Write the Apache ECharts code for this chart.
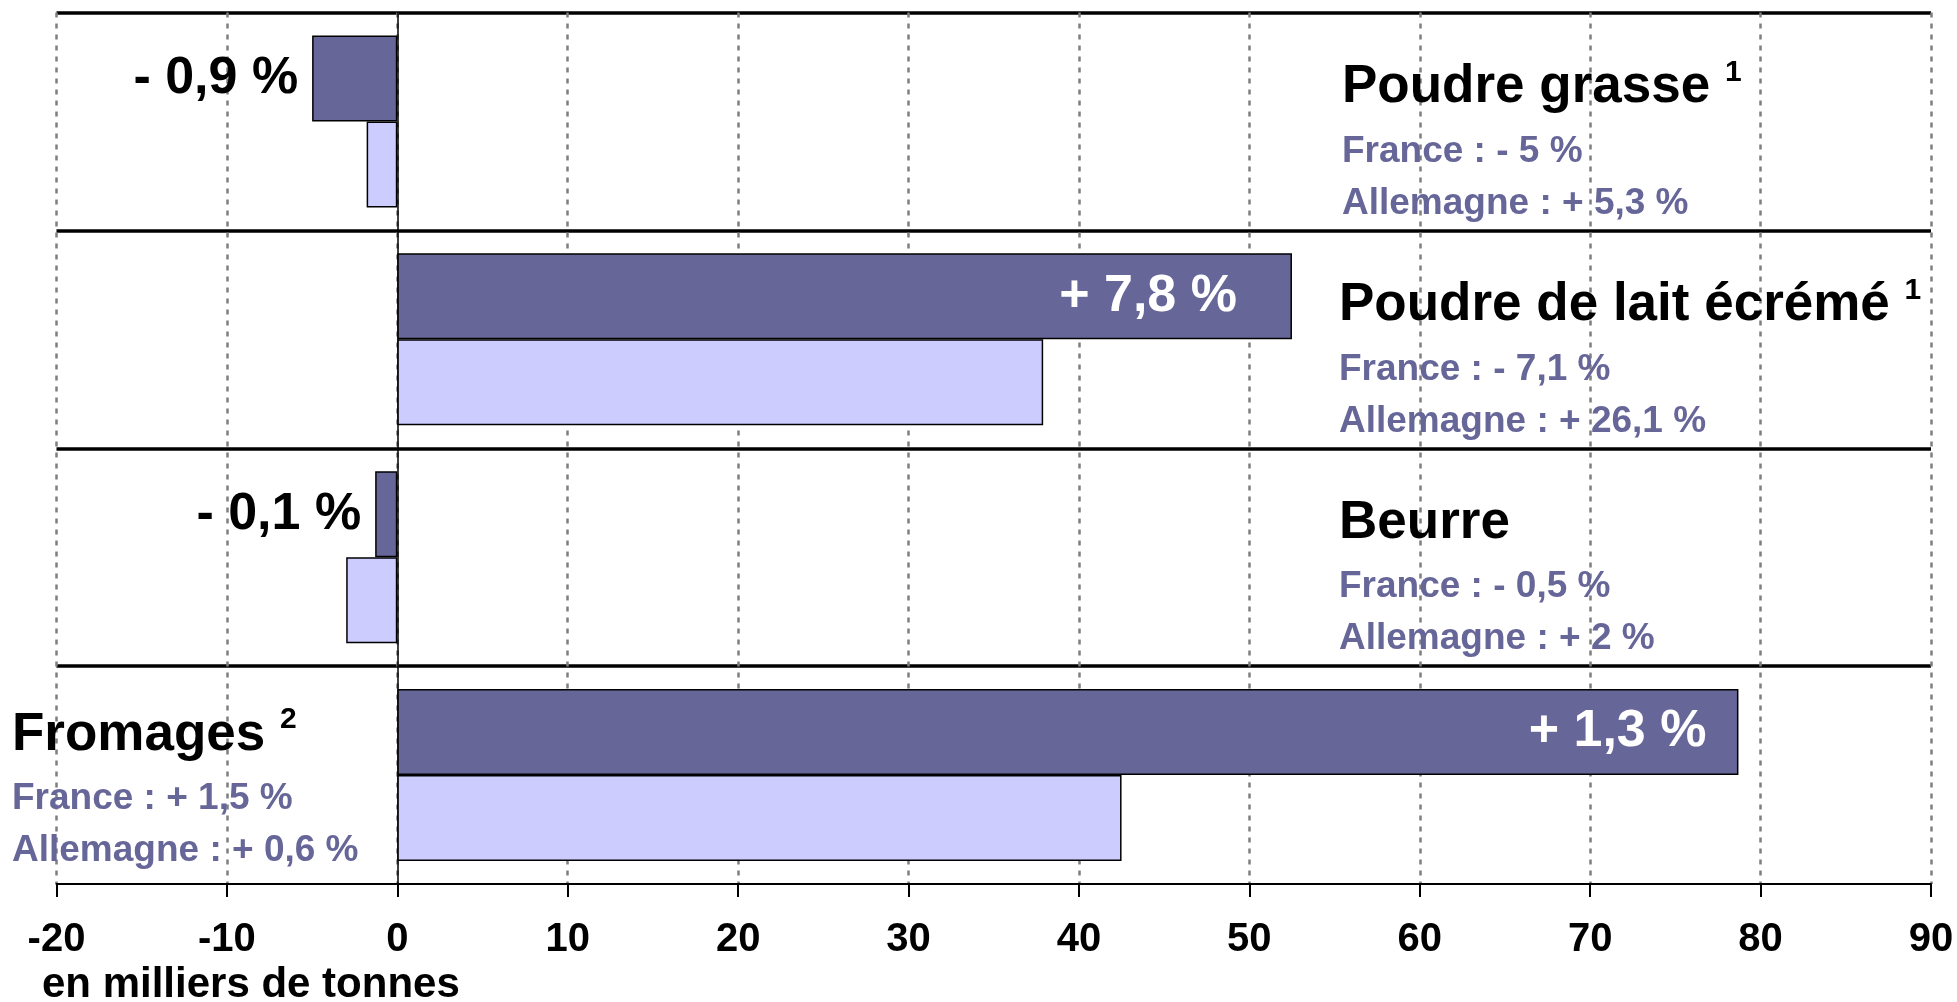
<!DOCTYPE html>
<html>
<head>
<meta charset="utf-8">
<title>Variation des livraisons</title>
<script src="https://cdn.jsdelivr.net/npm/echarts@6/dist/echarts.min.js"></script>
<style>
  html, body { margin: 0; padding: 0; background: #ffffff; }
  #chart { width: 1957px; height: 1002px; }
</style>
</head>
<body>
<div id="chart"></div>
<script>
// données (en milliers de tonnes)
const categories = ['Poudre grasse', 'Poudre de lait écrémé', 'Beurre', 'Fromages'];
const notes = ['1', '1', '', '2'];
const valuesDark = [-5.0, 52.5, -1.3, 78.7];
const valuesLight = [-1.8, 37.9, -3.0, 42.5];
const changeTotal = ['- 0,9 %', '+ 7,8 %', '- 0,1 %', '+ 1,3 %'];
const changeFrance = ['France : - 5 %', 'France : - 7,1 %', 'France : - 0,5 %', 'France : + 1,5 %'];
const changeGermany = ['Allemagne : + 5,3 %', 'Allemagne : + 26,1 %', 'Allemagne : + 2 %', 'Allemagne : + 0,6 %'];
const xMin = -20;
const xMax = 90;
const xStep = 10;
const unitLabel = 'en milliers de tonnes';

// mise en page des textes
const FONT = '"Liberation Sans", Arial, sans-serif';
const DARK = '#666699';
const LIGHT = '#ccccff';
const textLeft = [1342, 1339, 1339, 12];
const textShift = [5, 5, 5, -1];
const insideGap = [0, 55, 0, 32];

const chart = echarts.init(document.getElementById('chart'));

const option = {
  animation: false,
  backgroundColor: '#ffffff',
  textStyle: { fontFamily: FONT },
  grid: { left: 56.5, right: 26, top: 12.5, bottom: 118, outerBoundsMode: 'none' },
  xAxis: {
    type: 'value',
    min: xMin,
    max: xMax,
    interval: xStep,
    axisLine: { show: true, onZero: false, lineStyle: { color: '#000', width: 2 } },
    axisTick: { show: true, length: 13, lineStyle: { color: '#000', width: 2 } },
    axisLabel: { color: '#000', fontSize: 40, fontWeight: 'bold', fontFamily: FONT, margin: 36 },
    splitLine: { show: true, lineStyle: { color: '#7f7f7f', width: 2.5, type: [5, 6] } }
  },
  yAxis: {
    type: 'category',
    data: categories,
    inverse: true,
    axisLine: { show: true, onZero: true, lineStyle: { color: '#000', width: 1.5 } },
    axisTick: { show: false },
    axisLabel: { show: false },
    splitLine: { show: true, showMaxLine: false, lineStyle: { color: '#000', width: 3.5 } }
  },
  series: [
    {
      name: 'Total',
      type: 'bar',
      barGap: 0,
      barCategoryGap: '21%',
      itemStyle: { color: DARK, borderColor: '#000', borderWidth: 1.5 },
      data: valuesDark.map((v, i) => ({
        value: v,
        label: {
          show: true,
          position: v < 0 ? 'left' : 'insideRight',
          distance: v < 0 ? 14 : insideGap[i],
          color: v < 0 ? '#000' : '#fff',
          fontSize: 52,
          fontWeight: 'bold',
          fontFamily: FONT,
          formatter: () => changeTotal[i]
        }
      }))
    },
    {
      name: 'Autre',
      type: 'bar',
      barGap: 0,
      barCategoryGap: '21%',
      itemStyle: { color: LIGHT, borderColor: '#000', borderWidth: 1.5 },
      data: valuesLight
    }
  ]
};

chart.setOption(option);

// textes de chaque produit, placés sur le centre de la catégorie
const graphics = [];
categories.forEach((cat, i) => {
  const yc = chart.convertToPixel({ yAxisIndex: 0 }, cat) + textShift[i];
  const x = textLeft[i];
  graphics.push({
    type: 'text',
    x: x,
    y: yc - 39,
    style: {
      text: notes[i] ? '{t|' + cat + ' }{s|' + notes[i] + '}' : '{t|' + cat + '}',
      verticalAlign: 'middle',
      rich: {
        t: { fontSize: 53, fontWeight: 'bold', fontFamily: FONT, fill: '#000', lineHeight: 60 },
        s: { fontSize: 30, fontWeight: 'bold', fontFamily: FONT, fill: '#000', lineHeight: 40, verticalAlign: 'top' }
      }
    }
  });
  graphics.push({
    type: 'text', x: x, y: yc + 25,
    style: { text: changeFrance[i], fill: DARK, font: 'bold 37px ' + FONT, verticalAlign: 'middle' }
  });
  graphics.push({
    type: 'text', x: x, y: yc + 77,
    style: { text: changeGermany[i], fill: DARK, font: 'bold 37px ' + FONT, verticalAlign: 'middle' }
  });
});

graphics.push({
  type: 'text', x: 42, y: 985,
  style: { text: unitLabel, fill: '#000', font: 'bold 42px ' + FONT, verticalAlign: 'middle' }
});

chart.setOption({ graphic: graphics });
</script>
</body>
</html>
